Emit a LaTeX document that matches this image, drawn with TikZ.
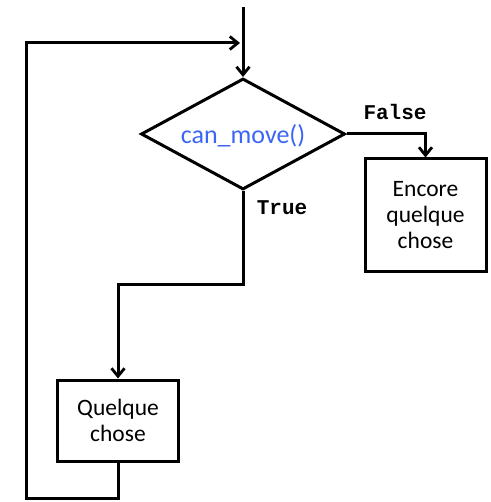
\documentclass[tikz,border=0pt]{standalone}
\usepackage{fontspec}
\setmainfont{Carlito}
\newfontfamily\codefont{Liberation Mono}
\usetikzlibrary{shapes.geometric,arrows.meta}
\definecolor{callblue}{RGB}{59,102,245}
\begin{document}
\begin{tikzpicture}[x=1pt,y=-1pt,line width=3pt,
  flow/.style={-{Straight Barb[length=8pt,width=13pt,line width=2.8pt]}},
  decision/.style={diamond,draw,inner sep=0pt,minimum width=204pt,minimum height=111pt},
  calltext/.style={text=callblue,font=\fontsize{26}{30}\selectfont,inner sep=0pt},
  action/.style={rectangle,draw,inner sep=0pt,minimum width=121pt,align=center,
    font=\fontsize{23.5}{26}\selectfont},
  branch/.style={font=\codefont\bfseries\fontsize{21}{24}\selectfont,inner sep=0pt}]
\useasboundingbox (0,0) rectangle (490,502);
\fill[white] (0,0) rectangle (490,502);

% decision and its condition text
\node[decision] (test) at (243,134) {};
\node[calltext] (call) at (243,136) {can\_move()};

% action boxes
\node[action,minimum height=112pt] (other) at (425.5,215) {Encore\\quelque\\chose};
\node[action,minimum height=81pt] (body) at (118,420.5) {Quelque\\chose};

% branch labels
\node[branch] (lblfalse) at (395,112) {False};
\node[branch] (lbltrue) at (282,208) {True};

% routing points
\coordinate (entry) at (243,7);
\coordinate (bend) at (243,284);
\coordinate (loopbottom) at (118,498);
\coordinate (loopleft) at (26,498);
\coordinate (looptop) at (26,43);
\coordinate (merge) at (240,43);

% connectors
\draw[flow] (entry) -- (test.north);
\draw[flow] (test.east) -| (other.north);
\draw[flow] (test.south) -- (bend) -| (body.north);
\draw[flow] (body.south) -- (loopbottom) -- (loopleft) -- (looptop) -- (merge);
\end{tikzpicture}
\end{document}
